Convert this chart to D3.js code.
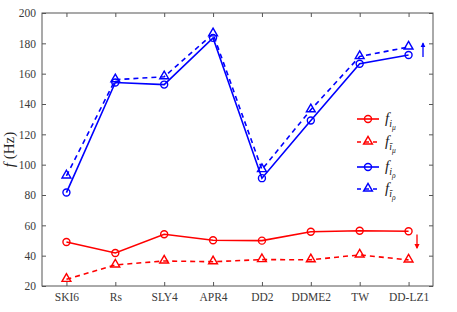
<!DOCTYPE html>
<html>
<head>
<meta charset="utf-8">
<script src="https://cdn.jsdelivr.net/npm/d3@7"></script>
<style>
body { margin: 0; background: #fff; }
svg text { font-family: "Liberation Serif", "DejaVu Serif", serif; }
</style>
</head>
<body>
<div id="canvas"></div>
<script>
var w = 457;
var h = 312;

var models = ["SKI6", "Rs", "SLY4", "APR4", "DD2", "DDME2", "TW", "DD-LZ1"];
var fMu = [49, 41.8, 54.1, 50.2, 49.9, 55.8, 56.4, 56.1];
var fMuTilde = [24.4, 33.9, 36.5, 36, 37.4, 37.3, 40.5, 37.2];
var fRho = [81.6, 154.2, 152.8, 183.6, 91.1, 129.1, 166.5, 172.3];
var fRhoTilde = [92.6, 156, 158, 186.3, 96.8, 136.2, 171.3, 177.6];
var yTicks = [20, 40, 60, 80, 100, 120, 140, 160, 180, 200];

var margin = {left: 42, right: 24, top: 13, bottom: 26};

var svg = d3.select("#canvas").append("svg")
    .attr("width", w)
    .attr("height", h);

var xScale = d3.scaleLinear()
    .domain([0.5, models.length + 0.5])
    .range([margin.left, w - margin.right]);

var yScale = d3.scaleLinear()
    .domain([20, 200])
    .range([h - margin.bottom, margin.top]);

var axisColor = "#555";

// box
svg.append("rect")
    .attr("x", margin.left)
    .attr("y", margin.top)
    .attr("width", w - margin.left - margin.right)
    .attr("height", h - margin.top - margin.bottom)
    .attr("fill", "none")
    .attr("stroke", axisColor)
    .attr("stroke-width", 1);

var xAxis = d3.axisBottom(xScale)
    .tickValues(d3.range(1, models.length + 1))
    .tickFormat(function(d) { return models[d - 1]; })
    .tickSizeInner(-4).tickSizeOuter(0).tickPadding(7);

var gx = svg.append("g")
    .attr("transform", "translate(0," + (h - margin.bottom) + ")")
    .call(xAxis);

var gxTop = svg.append("g")
    .attr("transform", "translate(0," + margin.top + ")")
    .call(d3.axisTop(xScale).tickValues(d3.range(1, models.length + 1))
        .tickFormat("").tickSizeInner(-4).tickSizeOuter(0));

var gy = svg.append("g")
    .attr("transform", "translate(" + margin.left + ",0)")
    .call(d3.axisLeft(yScale).tickValues(yTicks)
        .tickSizeInner(-4).tickSizeOuter(0).tickPadding(6));

var gyRight = svg.append("g")
    .attr("transform", "translate(" + (w - margin.right) + ",0)")
    .call(d3.axisRight(yScale).tickValues(yTicks)
        .tickFormat("").tickSizeInner(-4).tickSizeOuter(0));

[gx, gxTop, gy, gyRight].forEach(function(g) {
    g.attr("font-family", null);
    g.select(".domain").remove();
    g.selectAll(".tick line").attr("stroke", axisColor);
    g.selectAll(".tick text")
        .attr("fill", "#3a3a3a")
        .style("font-size", "11.5px")
        .style("font-weight", "normal");
});

// y label
svg.append("text")
    .attr("transform", "translate(14," + ((h - margin.bottom + margin.top) / 2) + ") rotate(-90)")
    .attr("text-anchor", "middle")
    .style("font-size", "15px")
    .attr("fill", "#222")
    .html("<tspan font-style='italic'>f</tspan> (Hz)");

var series = [
    {data: fMu, color: "red", dash: null, marker: "circle", tilde: false, sub2: "μ"},
    {data: fMuTilde, color: "red", dash: "5,4", marker: "triangle", tilde: true, sub2: "μ"},
    {data: fRho, color: "blue", dash: null, marker: "circle", tilde: false, sub2: "ρ"},
    {data: fRhoTilde, color: "blue", dash: "5,4", marker: "triangle", tilde: true, sub2: "ρ"}
];

var line = d3.line()
    .x(function(d, i) { return xScale(i + 1); })
    .y(function(d) { return yScale(d); });

function drawMarker(g, type, x, y, color) {
    if (type === "circle") {
        g.append("circle")
            .attr("cx", x).attr("cy", y).attr("r", 3.5)
            .attr("fill", "none").attr("stroke", color).attr("stroke-width", 1.4);
    } else {
        g.append("path")
            .attr("d", d3.symbol().type(d3.symbolTriangle).size(34)())
            .attr("transform", "translate(" + x + "," + (y - 0.5) + ")")
            .attr("fill", "none").attr("stroke", color).attr("stroke-width", 1.4);
    }
}

series.forEach(function(s) {
    var g = svg.append("g");
    g.append("path")
        .datum(s.data)
        .attr("d", line)
        .attr("fill", "none")
        .attr("stroke", s.color)
        .attr("stroke-width", 1.6)
        .attr("stroke-dasharray", s.dash);
    s.data.forEach(function(d, i) {
        drawMarker(g, s.marker, xScale(i + 1), yScale(d), s.color);
    });
});

// legend
var legY = [119, 142, 167, 189];
series.forEach(function(s, i) {
    var g = svg.append("g").attr("transform", "translate(357," + legY[i] + ")");
    g.append("line")
        .attr("x1", 0).attr("x2", 22).attr("y1", 0).attr("y2", 0)
        .attr("stroke", s.color).attr("stroke-width", 1.6)
        .attr("stroke-dasharray", s.dash ? "4,4" : null);
    drawMarker(g, s.marker, 11, 0, s.color);
    var t = g.append("text")
        .attr("x", 28).attr("y", 4)
        .attr("fill", "#222")
        .style("font-size", "15px")
        .style("font-style", "italic");
    t.append("tspan").text("f");
    t.append("tspan").attr("dy", 4).style("font-size", "10px").text(s.tilde ? "ĩ" : "i");
    t.append("tspan").attr("dy", 3).style("font-size", "7.5px").text(s.sub2);
});

// arrows
svg.append("defs").selectAll("marker")
    .data(["blue", "red"])
    .enter().append("marker")
    .attr("id", function(d) { return "arrow-" + d; })
    .attr("viewBox", "0 0 10 10")
    .attr("refX", 8).attr("refY", 5)
    .attr("markerWidth", 4).attr("markerHeight", 5)
    .attr("orient", "auto")
    .append("path")
    .attr("d", "M0,0 L10,5 L0,10 Z")
    .attr("fill", function(d) { return d; });

svg.append("line")
    .attr("x1", 423).attr("x2", 423)
    .attr("y1", yScale(171)).attr("y2", yScale(180))
    .attr("stroke", "blue").attr("stroke-width", 1.3)
    .attr("marker-end", "url(#arrow-blue)");

svg.append("line")
    .attr("x1", 417).attr("x2", 417)
    .attr("y1", yScale(54)).attr("y2", yScale(45))
    .attr("stroke", "red").attr("stroke-width", 1.3)
    .attr("marker-end", "url(#arrow-red)");
</script>
</body>
</html>
